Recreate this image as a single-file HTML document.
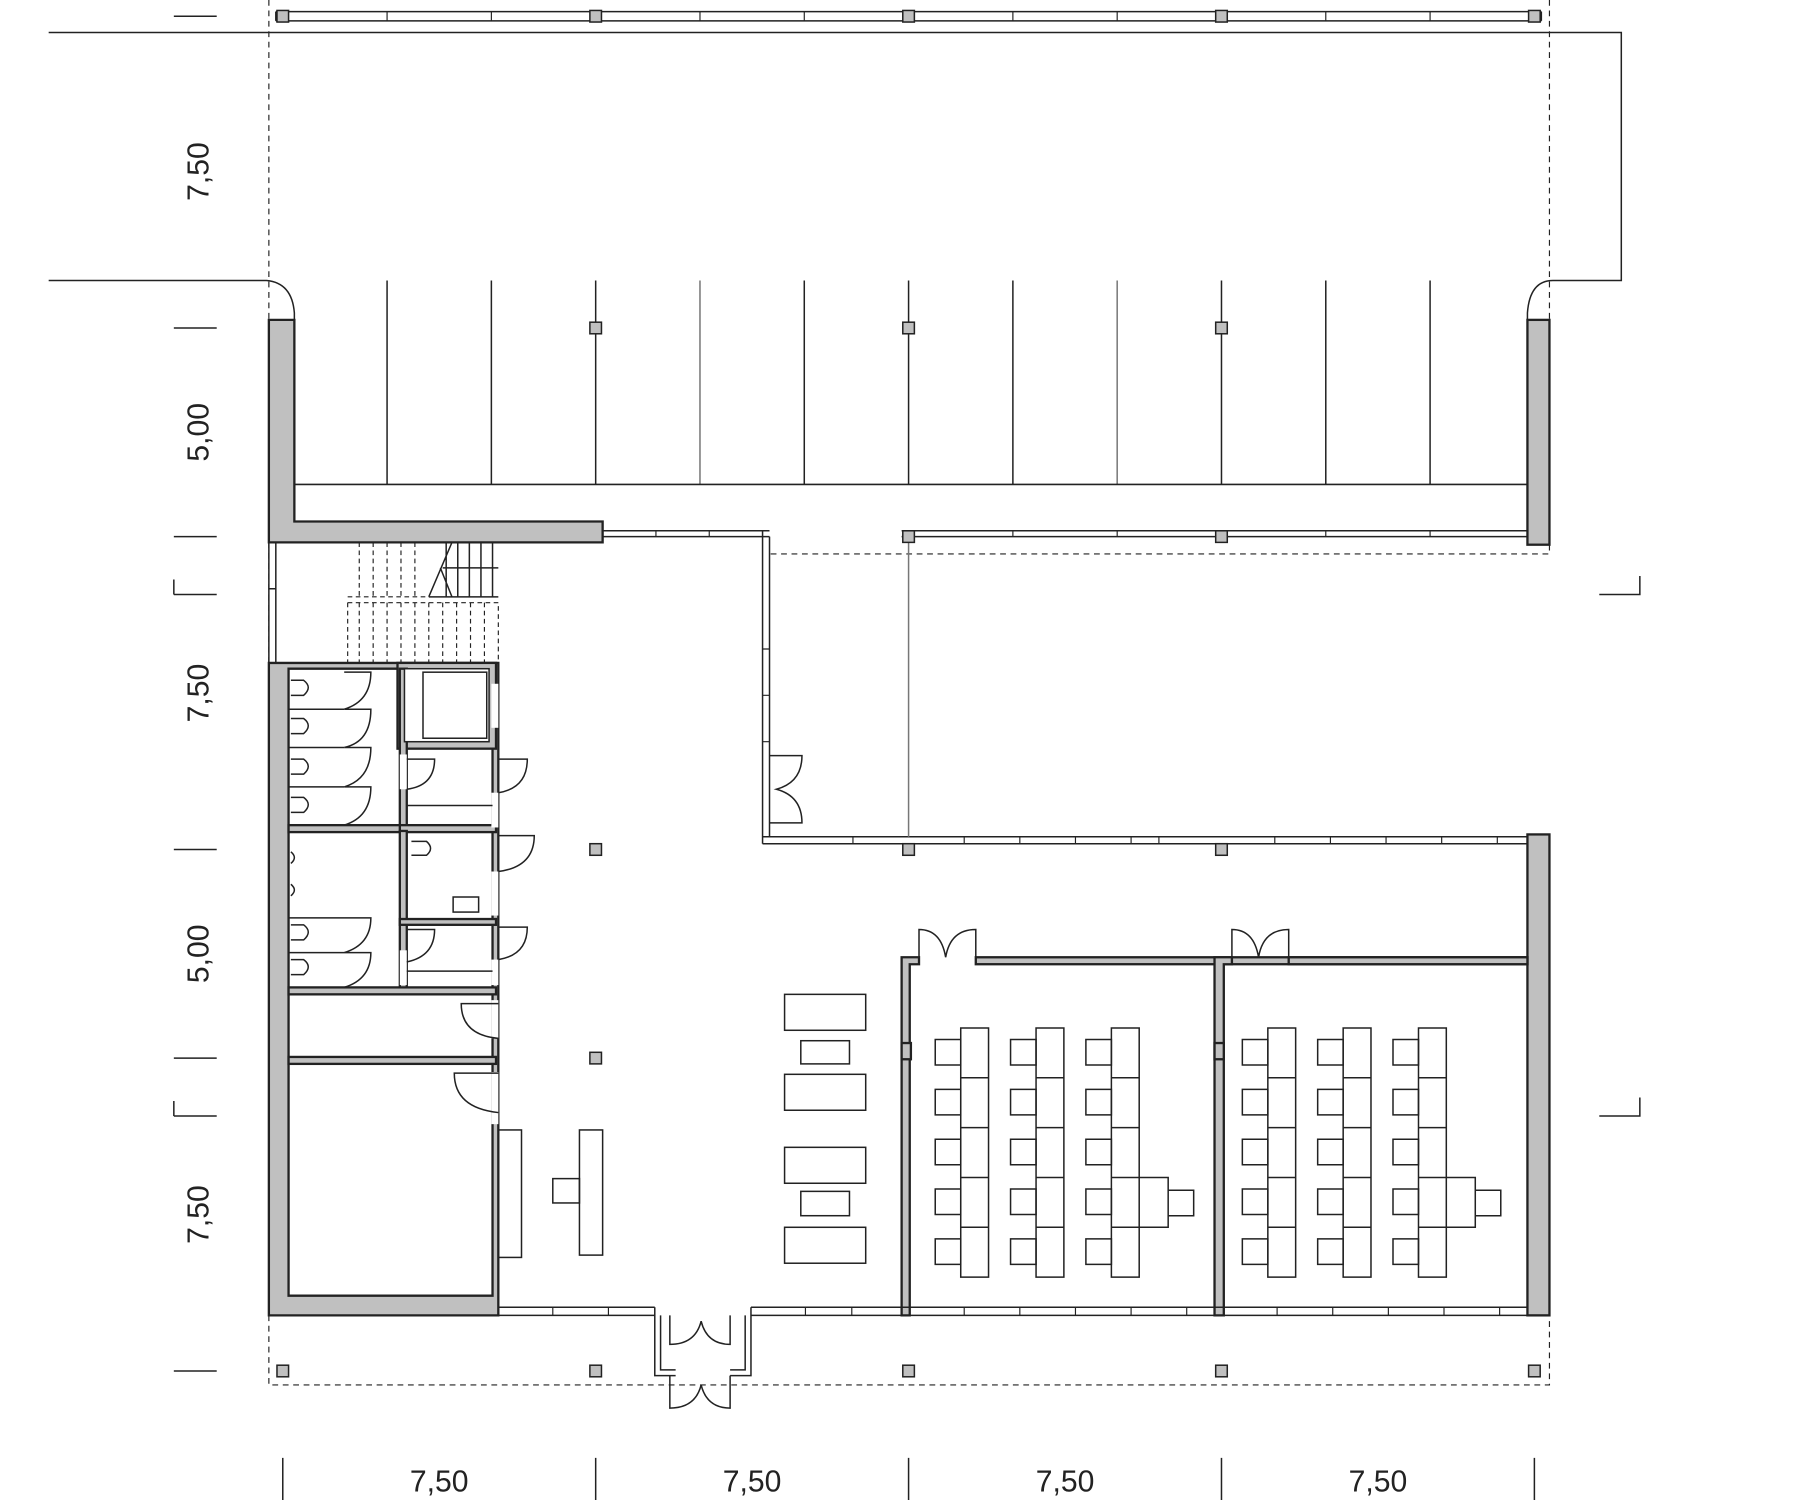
<!DOCTYPE html>
<html><head><meta charset="utf-8"><style>
html,body{margin:0;padding:0;background:#fff}
svg{display:block}
text{font-family:"Liberation Sans",sans-serif;font-size:26px;fill:#222}
</style></head><body>
<svg width="1816" height="1500" viewBox="0 0 1567 1294.3" xmlns="http://www.w3.org/2000/svg">
<g fill="none" stroke="#222" stroke-width="1.3">
<path d="M150 14H187M150 283H187M150 463H187M150 733H187M150 913H187M150 1183H187"/>
<path d="M150 513H187M150 500V513M150 963H187M150 950V963"/>
<path d="M1380 513H1415V497M1380 963H1415V947"/>
<path d="M244 1258V1295M514 1258V1295M784 1258V1295M1054 1258V1295M1324 1258V1295"/>
<g stroke-dasharray="5,4" stroke-width="1">
<path d="M232 0V276M1337 0V276M232 468V572M232 1135V1195H1337V1135M1337 470V478H664"/>
</g>
<path d="M238 10H1330M238 18H1330M238 10V18M1330 10V18"/>
<g stroke-width="1">
<path d="M334 10V18M424 10V18M604 10V18M694 10V18M874 10V18M964 10V18M1144 10V18M1234 10V18"/>
</g>
<path d="M42 28H1399V242H1340Q1320 242 1318 270V276"/>
<path d="M42 242H230Q252 244 254 270V276"/>
<path d="M334 242V418M424 242V418M514 242V418M694 242V418M784 242V418M874 242V418M1054 242V418M1144 242V418M1234 242V418"/>
<path d="M604 242V418M964 242V418" stroke="#777"/>
<path d="M254 418H1318"/>
<path d="M520 458H664M520 463H664M658 458V728M664 463V722"/>
<path d="M778 458H1318M778 463H1318"/>
<path d="M658 722H1318M658 728H1318"/>
<path d="M784 463V722" stroke="#777"/>
<g stroke-width="1">
<path d="M566 458V463M612 458V463M874 458V463M964 458V463M1144 458V463M1234 458V463"/>
<path d="M658 560H664M658 600H664M658 640H664"/>
<path d="M736 722V728M832 722V728M880 722V728M928 722V728M976 722V728M1000 722V728M1100 722V728M1148 722V728M1196 722V728M1244 722V728M1292 722V728"/>
</g>
<path d="M664 652H692Q692 675 670 681Q692 687 692 710H664"/>
<g stroke-width="1" stroke-dasharray="4,3">
<path d="M310 468V515M322 468V515M334 468V515M346 468V515M358 468V515M300 515H370M300 520H430V572M300 520V572"/>
<path d="M310 520V572M322 520V572M334 520V572M346 520V572M358 520V572M370 520V572M382 520V572M394 520V572M406 520V572M418 520V572"/>
</g>
<path d="M370 515L390 468M380 490L390 515M385 468V515M395 468V515M405 468V515M415 468V515M425 468V515M382 490H430M370 515H430"/>
<path d="M232 468V572M238 468V572M232 508H238"/>
</g>
<g fill="#c0c0c0" stroke="#222" stroke-width="2">
<path d="M232 276H254V450H520V468H232Z"/>
<rect x="1318" y="276" width="19" height="194"/>
<rect x="1318" y="720" width="19" height="415"/>
<path d="M232 572H430V1135H232Z"/>
<path d="M249 577H425V1118H249Z" fill="#fff"/>
<rect x="343" y="572" width="85" height="74"/>
<rect x="345" y="577" width="6" height="140"/>
<rect x="345" y="712" width="83" height="6"/>
<rect x="249" y="712" width="96" height="6"/>
<rect x="345" y="717" width="6" height="136"/>
<rect x="345" y="793" width="83" height="5"/>
<rect x="249" y="852" width="179" height="6"/>
<rect x="249" y="912" width="179" height="6"/>
<path d="M778 826H793V832H785V1135H778Z"/>
<rect x="842" y="826" width="476" height="6"/>
<path d="M1048 826H1063V832H1056V1135H1048Z"/>
<rect x="1112" y="826" width="206" height="6"/>
<rect x="778" y="900" width="8" height="14"/>
<rect x="1048" y="900" width="8" height="14"/>
<g stroke-width="1.3">
<rect x="239" y="9" width="10" height="10"/><rect x="509" y="9" width="10" height="10"/><rect x="779" y="9" width="10" height="10"/><rect x="1049" y="9" width="10" height="10"/><rect x="1319" y="9" width="10" height="10"/>
<rect x="509" y="278" width="10" height="10"/><rect x="779" y="278" width="10" height="10"/><rect x="1049" y="278" width="10" height="10"/>
<rect x="779" y="458" width="10" height="10"/><rect x="1049" y="458" width="10" height="10"/>
<rect x="509" y="728" width="10" height="10"/><rect x="779" y="728" width="10" height="10"/><rect x="1049" y="728" width="10" height="10"/>
<rect x="509" y="908" width="10" height="10"/>
<rect x="239" y="1178" width="10" height="10"/><rect x="509" y="1178" width="10" height="10"/><rect x="779" y="1178" width="10" height="10"/><rect x="1049" y="1178" width="10" height="10"/><rect x="1319" y="1178" width="10" height="10"/>
</g>
</g>
<g fill="none" stroke="#222" stroke-width="1.3">
<rect x="349" y="577" width="73" height="63" fill="#fff"/>
<rect x="365" y="580" width="55" height="57"/>
<g stroke="none" fill="#fff"><rect x="424" y="590" width="6" height="38"/><rect x="424" y="684" width="6" height="30"/><rect x="424" y="752" width="6" height="38"/><rect x="424" y="828" width="6" height="22"/><rect x="424" y="863" width="6" height="33"/><rect x="424" y="925" width="6" height="45"/><rect x="345" y="651" width="6" height="30"/><rect x="345" y="820" width="6" height="30"/></g>
<path d="M249 612H297M249 645H297M249 679H297"/>
<path d="M297 580H320Q320 605 297 612M297 612H320Q320 640 297 645M297 645H320Q320 672 297 679M297 679H320Q320 705 297 712"/>
<path d="M251 587H262Q270 593 262 600H251M251 620H262Q270 626 262 633H251M251 655H262Q270 661 262 668H251M251 688H262Q270 694 262 701H251"/>
<path d="M249 792H297M249 822H297M297 792H320Q320 815 297 822M297 822H320Q320 845 297 852"/>
<path d="M251 798H262Q270 804 262 811H251M251 828H262Q270 834 262 841H251M251 735Q257 740 251 745M251 763Q257 768 251 773"/>
<path d="M351 695H425M351 838H425"/>
<path d="M351 655H375Q375 678 351 681"/>
<path d="M351 802H375Q375 825 351 830"/>
<path d="M430 655H455Q455 680 430 684"/>
<path d="M430 721H461Q461 748 430 752"/>
<path d="M430 800H455Q455 824 430 828"/>
<path d="M355 726H368Q375 732 368 738H355"/>
<rect x="391" y="774" width="22" height="13"/>
<path d="M430 866H398Q398 893 430 896"/>
<path d="M430 926H392Q392 956 430 960"/>
<rect x="430" y="975" width="20" height="110"/>
<rect x="500" y="975" width="20" height="108"/>
<rect x="477" y="1017" width="23" height="21"/>
<rect x="677" y="858" width="70" height="31"/>
<rect x="691" y="898" width="42" height="20"/>
<rect x="677" y="927" width="70" height="31"/>
<rect x="677" y="990" width="70" height="31"/>
<rect x="691" y="1028" width="42" height="21"/>
<rect x="677" y="1059" width="70" height="31"/>
<path d="M430 1128H565M430 1135H565M648 1128H1318M648 1135H1318"/>
<g stroke-width="1"><path d="M477 1128V1135M525 1128V1135M695 1128V1135M735 1128V1135M832 1128V1135M880 1128V1135M928 1128V1135M976 1128V1135M1024 1128V1135M1102 1128V1135M1150 1128V1135M1198 1128V1135M1246 1128V1135M1294 1128V1135"/></g>
<path d="M565 1128V1187H583M648 1128V1187H630M570 1135V1182H583M643 1135V1182H630"/>
<path d="M578 1135V1160Q600 1160 605 1140Q610 1160 630 1160V1135"/>
<path d="M578 1187V1215Q600 1215 605 1195Q610 1215 630 1215V1187"/>
<path d="M793 826V802Q812 802 816 826Q820 802 842 802V826"/>
<path d="M1063 826V802Q1082 802 1086 826Q1090 802 1112 802V826"/>
</g>
<g fill="none" stroke="#222" stroke-width="1.3" id="room1">
<path d="M829 887h24v215h-24zM829 930h24M829 973h24M829 1016h24M829 1059h24"/>
<path d="M807 897h22v22h-22zM807 940h22v22h-22zM807 983h22v22h-22zM807 1026h22v22h-22zM807 1069h22v22h-22z"/>
<path d="M894 887h24v215h-24zM894 930h24M894 973h24M894 1016h24M894 1059h24"/>
<path d="M872 897h22v22h-22zM872 940h22v22h-22zM872 983h22v22h-22zM872 1026h22v22h-22zM872 1069h22v22h-22z"/>
<path d="M959 887h24v215h-24zM959 930h24M959 973h24M959 1016h24M959 1059h24"/>
<path d="M937 897h22v22h-22zM937 940h22v22h-22zM937 983h22v22h-22zM937 1026h22v22h-22zM937 1069h22v22h-22z"/>
<path d="M983 1016h25v43h-25M1008 1027h22v22h-22"/>
</g>
<use href="#room1" transform="translate(265,0)"/>
<g>
<text transform="translate(180,148) rotate(-90)" text-anchor="middle">7,50</text>
<text transform="translate(180,373) rotate(-90)" text-anchor="middle">5,00</text>
<text transform="translate(180,598) rotate(-90)" text-anchor="middle">7,50</text>
<text transform="translate(180,823) rotate(-90)" text-anchor="middle">5,00</text>
<text transform="translate(180,1048) rotate(-90)" text-anchor="middle">7,50</text>
<text x="379" y="1287" text-anchor="middle">7,50</text>
<text x="649" y="1287" text-anchor="middle">7,50</text>
<text x="919" y="1287" text-anchor="middle">7,50</text>
<text x="1189" y="1287" text-anchor="middle">7,50</text>
</g>
</svg>
</body></html>
